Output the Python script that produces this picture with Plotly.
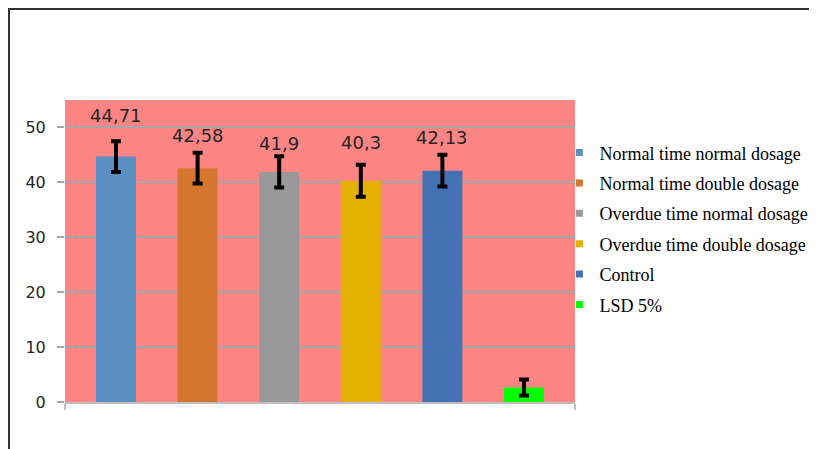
'''
    Bar chart of treatment means with error bars and an LSD 5% bar.
'''
import plotly.graph_objects as go

# data
treatments = [
    "Normal time normal dosage",
    "Normal time double dosage",
    "Overdue time normal dosage",
    "Overdue time double dosage",
    "Control",
    "LSD 5%",
]
means = [44.71, 42.58, 41.9, 40.3, 42.13, 2.65]
errors = [2.8, 2.8, 2.85, 2.9, 2.9, 1.45]
value_labels = ["44,71", "42,58", "41,9", "40,3", "42,13", None]
colors = ["#5B8FC4", "#D5772F", "#999999", "#E5B000", "#4470B4", "#00FF00"]

# pixel nudges of the value labels above the error bar tops
label_shift = [26, 17, 13, 22, 17, 0]

BAR_GAP = 0.04
GROUP_GAP = 0.51
GROUP = "Treatment"

fig = go.Figure()

for i, name in enumerate(treatments):
    fig.add_trace(go.Bar(
        x=[GROUP],
        y=[means[i]],
        name=name,
        marker=dict(color=colors[i], line=dict(width=0)),
        error_y=dict(type="data", array=[errors[i]], color="black",
                     thickness=4, width=5),
        showlegend=False,
    ))
    # small square legend keys
    fig.add_trace(go.Scatter(
        x=[None], y=[None], mode="markers", name=name,
        legendgroup=name,
        marker=dict(symbol="square", size=7, color=colors[i]),
    ))

# value labels, placed above each bar's error bar
n = len(treatments)
slot = (1 - BAR_GAP) / n
for i, lab in enumerate(value_labels):
    if lab is None:
        continue
    fig.add_annotation(
        x=BAR_GAP / 2 + (i + 0.5) * slot,
        xref="paper",
        xanchor="center",
        y=means[i] + errors[i],
        yref="y",
        yanchor="middle",
        yshift=label_shift[i],
        text=lab,
        showarrow=False,
        font=dict(family="DejaVu Sans", size=18, color="#262626"),
    )

# chart area border (cut off at right and bottom in the original)
fig.add_shape(
    type="path",
    xref="paper", yref="paper",
    path="M -0.1108,-0.3 L -0.1108,1.303 L 1.6,1.303",
    line=dict(color="#333333", width=3),
)

# the page adds an 8px body margin, so the figure is 8px smaller each way
fig.update_layout(
    width=809,
    height=441,
    margin=dict(l=57, r=242, t=92, b=47, autoexpand=False),
    paper_bgcolor="white",
    plot_bgcolor="#FF8585",
    barmode="group",
    bargap=BAR_GAP,
    bargroupgap=GROUP_GAP,
    legend=dict(
        xref="container", yref="container",
        x=0.6816, y=0.7136, xanchor="left", yanchor="top",
        font=dict(family="Liberation Serif", size=18, color="black"),
        tracegroupgap=4,
        bgcolor="rgba(0,0,0,0)",
    ),
    xaxis=dict(
        showticklabels=False,
        showline=True, linecolor="#BFBFBF", linewidth=1.5,
        ticks="outside", tickson="boundaries", ticklen=6,
        tickcolor="#BFBFBF", tickwidth=1.5,
        showgrid=False,
    ),
    yaxis=dict(
        range=[0, 55],
        dtick=10,
        showgrid=True, gridcolor="#A6A6A6", gridwidth=1.5,
        zeroline=False,
        ticks="outside", ticklen=7, tickcolor="#A6A6A6", tickwidth=1.5,
        ticklabelstandoff=8,
        tickfont=dict(family="DejaVu Sans", size=16, color="#262626"),
    ),
)

fig.write_html("out.html")
